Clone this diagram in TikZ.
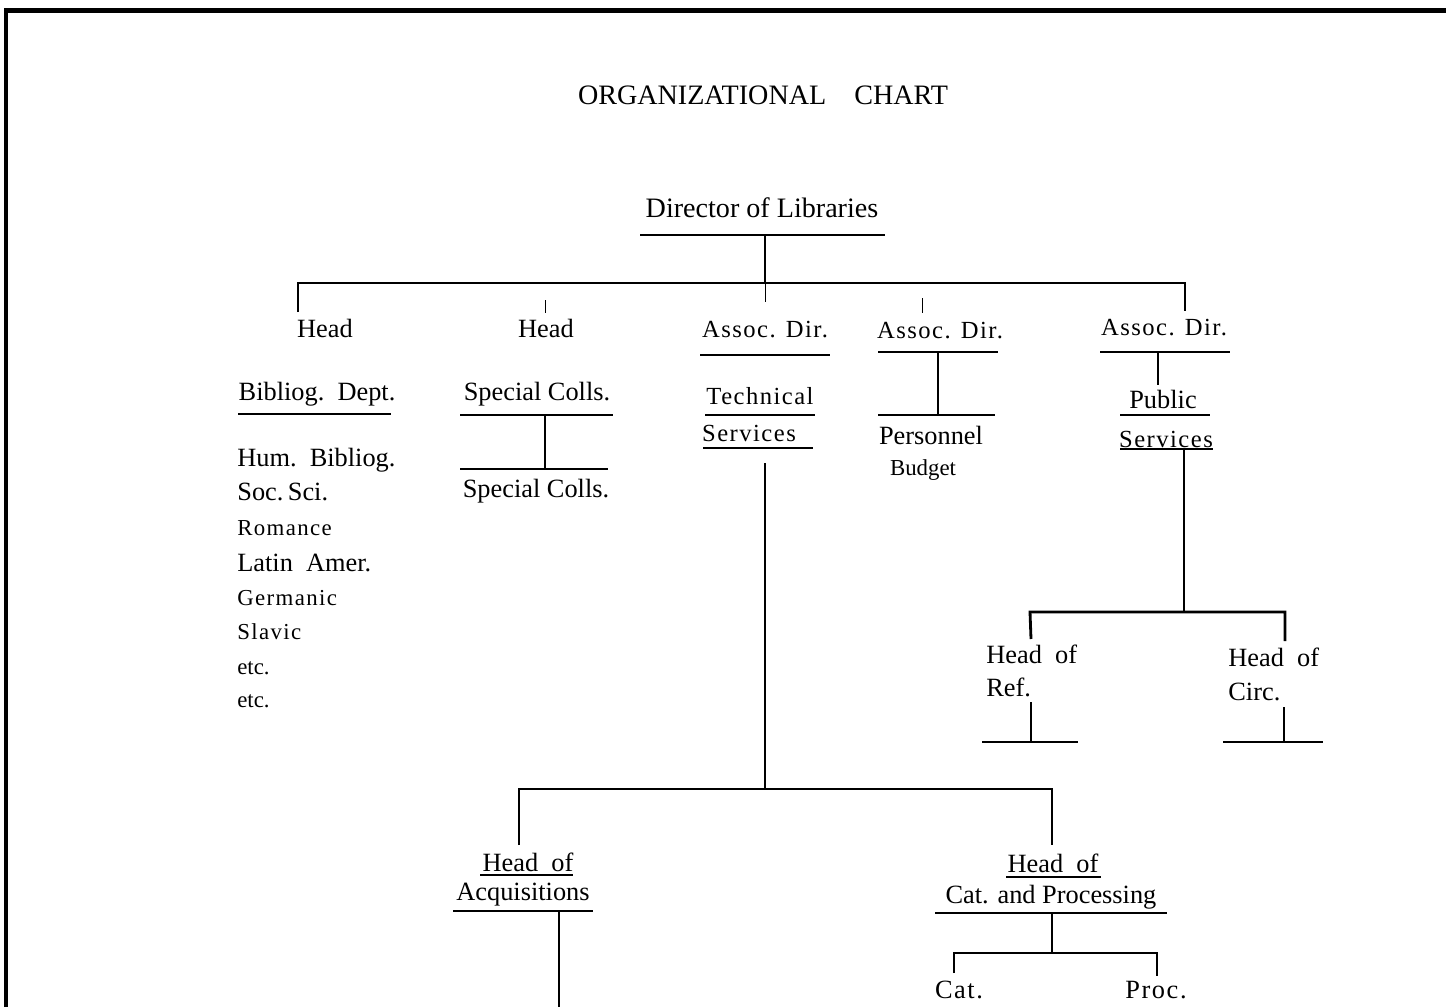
\documentclass[tikz,border=0pt]{standalone}
\usepackage{fontspec}
\setmainfont{Liberation Serif}
\newfontfamily\widefont[LetterSpace=6.0]{Liberation Serif}
\usetikzlibrary{positioning}

\tikzset{
  lbl/.style={inner sep=0pt,font=\fontsize{15}{18}\selectfont},
  big/.style={inner sep=0pt,font=\fontsize{16}{19}\selectfont},
  wide/.style={inner sep=0pt,font=\fontsize{14}{17}\selectfont\widefont},
  widelist/.style={inner sep=0pt,font=\fontsize{13}{16}\selectfont\widefont},
  small/.style={inner sep=0pt,font=\fontsize{13}{16}\selectfont},
  bar/.style={line width=1.6pt},
  hair/.style={line width=0.45pt},
  frame/.style={line width=2.7pt}
}

\begin{document}
\begin{tikzpicture}[x=0.02cm,y=-0.02cm]
    \useasboundingbox (0,0) rectangle (1446,1007);
    \draw[frame] (6,1007) -- (6,10.5) -- (1446,10.5);

    % titles and boxes
    \node[big] (title) at (763,95) {ORGANIZATIONAL\quad CHART};
    \node[big] (dir) at (762,208) {Director of Libraries};
    \foreach \n/\x/\y/\s/\t in {
      hA/325/328/lbl/{Head},
      hB/546/328/lbl/{Head},
      aA/765/330/wide/{Assoc. Dir.},
      aB/940/331/wide/{Assoc. Dir.},
      aC/1164/328/wide/{Assoc. Dir.},
      bib/317/394/lbl/{Bibliog.\ \ Dept.},
      scA/537/394/lbl/{Special Colls.},
      scB/536/491/lbl/{Special Colls.},
      tech/760/396/wide/{Technical},
      tsrv/749/433/wide/{Services},
      pers/931/435/lbl/{Personnel},
      budg/923/470/small/{Budget},
      pub/1163/399/lbl/{Public},
      psrv/1166/439/wide/{Services},
      acqA/528/862/lbl/{Head\ \ of},
      acqB/523/895/lbl/{Acquisitions},
      catA/1053/863/lbl/{Head\ \ of},
      catB/1051/897/lbl/{Cat. and Processing}}{
      \node[\s] (\n) at (\x,\y) {\t};
    }
    \node[lbl,font=\fontsize{15}{18}\selectfont\widefont] (cat) at (959,990) {Cat.};
    \node[lbl,font=\fontsize{15}{18}\selectfont\widefont] (proc) at (1156,990) {Proc.};
    \foreach \n/\x/\y/\t in {
      refA/986/654/{Head\ \ of},
      refB/986/687/{Ref.},
      circA/1228/657/{Head\ \ of},
      circB/1228/692/{Circ.}}{
      \node[lbl,anchor=west] (\n) at (\x,\y) {\t};
    }

    % bibliographers
    \foreach \n/\y/\s/\t in {
      l1/460/lbl/{Hum.\ \ Bibliog.},
      l2/492/lbl/{Soc.\,Sci.},
      l3/528/widelist/{Romance},
      l4/563/lbl/{Latin\ \ Amer.},
      l5/598/widelist/{Germanic},
      l6/632/widelist/{Slavic},
      l7/668/small/{etc.},
      l8/701/small/{etc.}}{
      \node[\s,anchor=west] (\n) at (237,\y) {\t};
    }

    % underlines
    \foreach \n/\y/\a/\b in {
      dir/235/640/885, aA/355/700/830, aB/352/878/998, aC/352/1100/1230,
      bib/414/238/391, scA/415/460/613, scB/469/460/608,
      tech/415/705/815, tsrv/448/703/813, aB2/415/878/995,
      pub/415/1120/1210, psrv/449/1120/1213,
      ref/742/982/1078, circ/742/1223/1323,
      acqA/875/480/573, acqB/911/453/593,
      catA/877/1006/1101, catB/913/935/1167}{
      \coordinate (u-\n-l) at (\a,\y);
      \coordinate (u-\n-r) at (\b,\y);
      \draw[bar] (u-\n-l) -- (u-\n-r);
    }

    % stems
    \foreach \n/\x/\a/\b in {
      dir/765/235/283, scA/545/415/469, aB/938/352/415, aC/1158/352/385,
      psrv/1184/449/612, ref/1031/702/742, circ/1284/707/742,
      tech/765/463/789, acq/559/911/1007, catB/1052/913/953}{
      \coordinate (s-\n-a) at (\x,\a);
      \coordinate (s-\n-b) at (\x,\b);
      \draw[bar] (s-\n-a) -- (s-\n-b);
    }

    % branch bars
    \coordinate (topL) at (298,283);
    \coordinate (topR) at (1185,283);
    \draw[bar] (298,312) -- (topL) -- (topR) -- (1185,311);
    \coordinate (pubL) at (1030,612);
    \coordinate (pubR) at (1285,612);
    \draw[bar] (1031,639) -- (pubL) -- (pubR) -- (1285,641);
    \coordinate (techL) at (519,789);
    \coordinate (techR) at (1052,789);
    \draw[bar] (519,845) -- (techL) -- (techR) -- (1052,845);
    \coordinate (catL) at (954,953);
    \coordinate (catR) at (1157,953);
    \draw[bar] (954,973) -- (catL) -- (catR) -- (1157,976);

    % faint ticks
    \draw[hair] (s-dir-b) -- (765,302);
    \draw[hair] (545,300) -- (545,313);
    \draw[hair] (922,298) -- (922,313);
\end{tikzpicture}
\end{document}
